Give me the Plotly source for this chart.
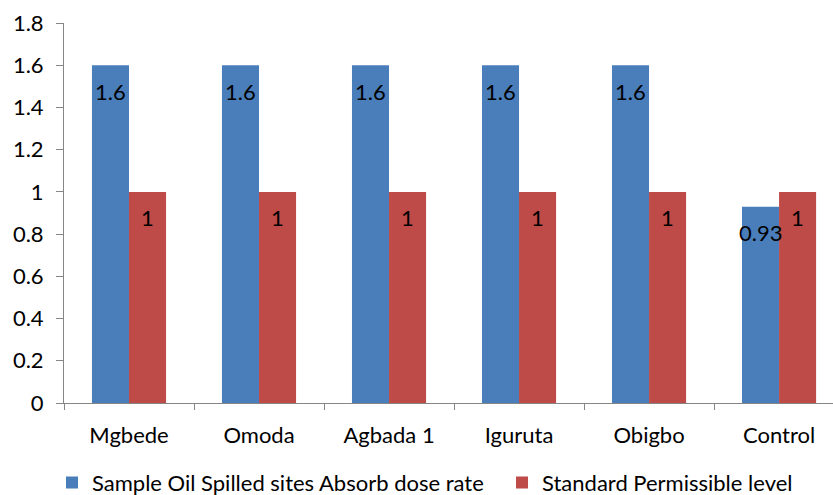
import plotly.graph_objects as go

sites = ["Mgbede", "Omoda", "Agbada 1", "Iguruta", "Obigbo", "Control"]
absorb_dose = [1.6, 1.6, 1.6, 1.6, 1.6, 0.93]
permissible = [1, 1, 1, 1, 1, 1]
y_ticks = [0, 0.2, 0.4, 0.6, 0.8, 1, 1.2, 1.4, 1.6, 1.8]
y_tick_text = ["0", "0.2", "0.4", "0.6", "0.8", "1", "1.2", "1.4", "1.6", "1.8"]

FONT = "Lato"
SIZE = 22
BLUE = "#4A7EBB"
RED = "#BE4B48"
AXIS = "#868686"

fig = go.Figure()
fig.add_trace(go.Bar(
    x=sites, y=absorb_dose, name="Sample Oil Spilled sites Absorb dose rate",
    marker=dict(color=BLUE, line=dict(width=0)), legend="legend",
))
fig.add_trace(go.Bar(
    x=sites, y=permissible, name="Standard Permissible level",
    marker=dict(color=RED, line=dict(width=0)), legend="legend2",
))

# value labels placed just below each bar top
annotations = []
for i, v in enumerate(absorb_dose):
    annotations.append(dict(x=i - 0.142, y=v, xref="x", yref="y", text=str(v),
                            showarrow=False, yanchor="middle", yshift=-26,
                            font=dict(family=FONT, size=SIZE, color="#000000")))
for i, v in enumerate(permissible):
    annotations.append(dict(x=i + 0.142, y=v, xref="x", yref="y", text=str(v),
                            showarrow=False, yanchor="middle", yshift=-26,
                            font=dict(family=FONT, size=SIZE, color="#000000")))

legend_style = dict(orientation="h", xanchor="left", y=-0.21, yanchor="middle",
                    font=dict(family=FONT, size=SIZE), bgcolor="rgba(0,0,0,0)")

fig.update_layout(
    width=833, height=495,
    margin=dict(l=64, r=0, t=23, b=92, autoexpand=False),
    paper_bgcolor="white", plot_bgcolor="white",
    barmode="group", bargap=0.43, bargroupgap=0,
    font=dict(family=FONT, size=SIZE, color="#000000"),
    annotations=annotations,
    showlegend=True,
    legend=dict(x=-0.0156, **legend_style),
    legend2=dict(x=0.5696, **legend_style),
    xaxis=dict(
        type="category", range=[-0.5, 5.415], automargin=False,
        showline=True, linecolor=AXIS, linewidth=1,
        ticks="outside", tickson="boundaries", ticklen=6, tickcolor=AXIS,
        ticklabelstandoff=13,
        showgrid=False, tickfont=dict(family=FONT, size=SIZE),
    ),
    yaxis=dict(
        range=[0, 1.8], tickvals=y_ticks, ticktext=y_tick_text, automargin=False,
        showline=True, linecolor=AXIS, linewidth=1,
        ticks="outside", ticklen=7, tickcolor=AXIS, ticklabelstandoff=8,
        showgrid=False, zeroline=False, tickfont=dict(family=FONT, size=SIZE),
    ),
)

fig.write_html("out.html")
